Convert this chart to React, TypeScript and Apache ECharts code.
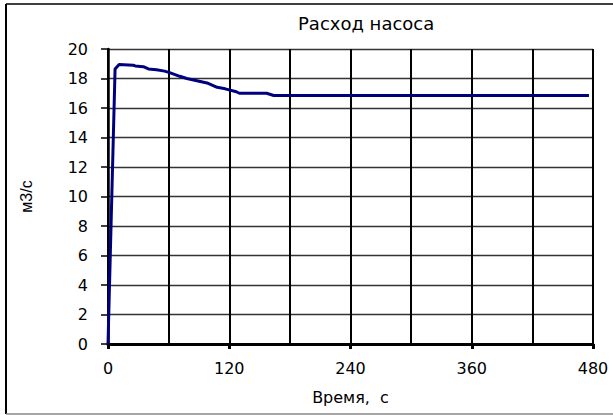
import React, { useEffect, useRef } from "react";
import * as echarts from "echarts";

const titleText = "Расход насоса";
const xName = "Время,  с";
const yName = "м3/с";
const timeSec = [0, 7, 11, 25, 27, 35, 40, 48, 56, 61, 71, 78, 88, 98, 108, 116, 127, 130, 157, 164, 476];
const flow = [0, 18.65, 18.95, 18.9, 18.85, 18.8, 18.65, 18.6, 18.5, 18.4, 18.15, 18.0, 17.85, 17.7, 17.4, 17.3, 17.1, 17.0, 17.0, 16.85, 16.85];
const xMin = 0;
const xMax = 480;
const xGridStep = 60;
const xLabelStep = 120;
const yMin = 0;
const yMax = 20;
const yStep = 2;

export default function App() {
  const ref = useRef<HTMLDivElement>(null);
  useEffect(() => {
    if (!ref.current) return;
    const chart = echarts.init(ref.current, null, { renderer: "svg" });
    const font = "'DejaVu Sans', 'Liberation Sans', Arial, sans-serif";
    chart.setOption({
      animation: false,
      backgroundColor: "#ffffff",
      title: {
        text: titleText,
        left: 298,
        top: 14,
        padding: 0,
        textStyle: { fontFamily: font, fontSize: 18, fontWeight: "normal", color: "#000" },
      },
      grid: { left: 108, right: 20, top: 49, bottom: 71, containLabel: false },
      xAxis: [
        {
          type: "value",
          min: xMin,
          max: xMax,
          interval: xGridStep,
          position: "bottom",
          name: xName,
          nameLocation: "middle",
          nameGap: 45,
          nameTextStyle: { fontFamily: font, fontSize: 16, color: "#000" },
          axisLine: { show: true, onZero: false, lineStyle: { color: "#000", width: 3 } },
          axisTick: { show: false },
          axisLabel: { show: false },
          splitLine: { show: true, lineStyle: { color: "#000", width: 2 } },
        },
        {
          type: "value",
          min: xMin,
          max: xMax,
          interval: xLabelStep,
          position: "bottom",
          axisLine: { show: false },
          axisTick: { show: true, length: 5, lineStyle: { color: "#000", width: 3 } },
          axisLabel: { show: true, margin: 16, fontFamily: font, fontSize: 16, color: "#000" },
          splitLine: { show: false },
        },
      ],
      yAxis: {
        type: "value",
        min: yMin,
        max: yMax,
        interval: yStep,
        name: yName,
        nameLocation: "middle",
        nameGap: 74,
        nameRotate: 90,
        nameTextStyle: { fontFamily: "'Liberation Sans Narrow', 'Liberation Sans', Arial, sans-serif", fontSize: 16, color: "#000" },
        axisLine: { show: true, lineStyle: { color: "#000", width: 2.5 } },
        axisTick: { show: true, length: 7, lineStyle: { color: "#000", width: 1.5 } },
        axisLabel: { margin: 20, fontFamily: font, fontSize: 16, color: "#000" },
        splitLine: { show: true, lineStyle: { color: "#333", width: 1.3 } },
      },
      series: [
        {
          type: "line",
          xAxisIndex: 0,
          data: timeSec.map((t, i) => [t, flow[i]]),
          showSymbol: false,
          symbol: "none",
          lineStyle: { color: "#00007f", width: 3 },
          z: 5,
        },
      ],
      graphic: [
        { type: "line", shape: { x1: 6, y1: 4, x2: 6, y2: 414 }, style: { stroke: "#000", lineWidth: 2 } },
        { type: "line", shape: { x1: 6, y1: 4, x2: 613, y2: 4 }, style: { stroke: "#000", lineWidth: 1.5 } },
        { type: "line", shape: { x1: 6, y1: 414, x2: 613, y2: 414 }, style: { stroke: "#888", lineWidth: 1.5 } },
      ],
    });
    return () => chart.dispose();
  }, []);
  return <div ref={ref} style={{ position: "fixed", left: 0, top: 0, width: 613, height: 415 }} />;
}
